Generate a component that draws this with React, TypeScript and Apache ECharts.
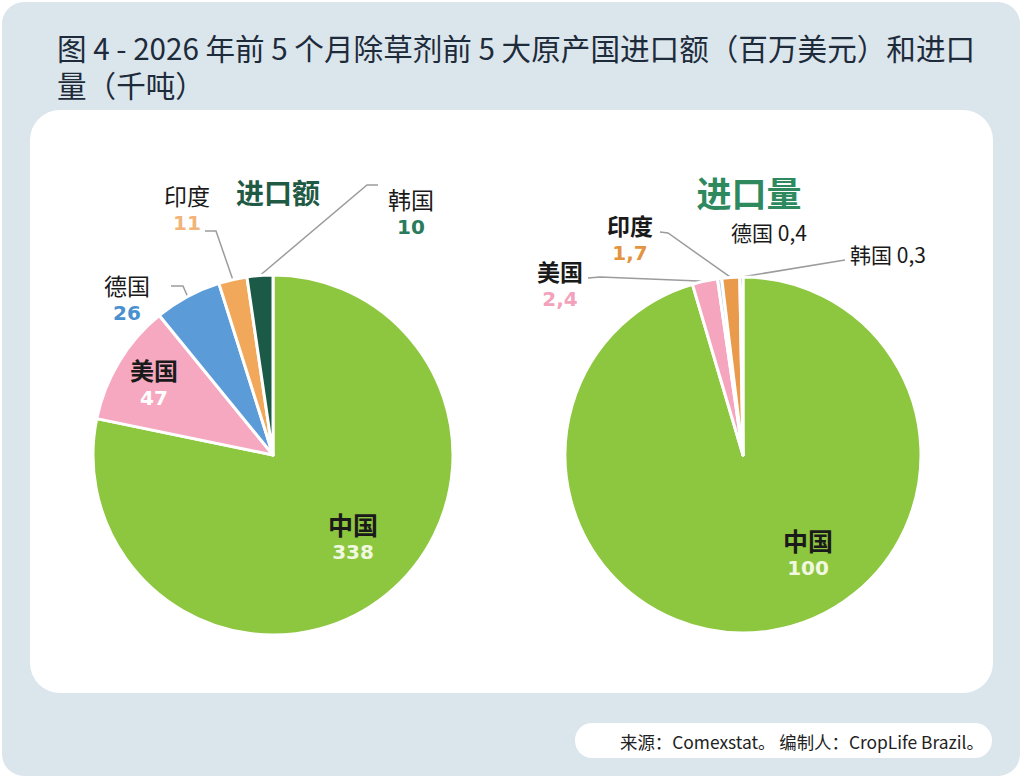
import React, { useEffect, useRef } from 'react';
import * as echarts from 'echarts';

// ---- data ----
const countries = ['中国', '美国', '德国', '印度', '韩国'];
const importValue = [338, 47, 26, 11, 10]; // 百万美元
const importVolume = [100, 2.4, 0.4, 1.7, 0.3]; // 千吨
const valueColors = ['#8dc63f', '#f5a8c0', '#5b9bd8', '#f1a85a', '#1b5a46'];
const volumeColors = ['#8dc63f', '#f5a6be', '#b8d4ee', '#e99a4a', '#163d33'];
const titleLine1 = '图 4 - 2026 年前 5 个月除草剂前 5 大原产国进口额（百万美元）和进口';
const titleLine2 = '量（千吨）';
const leftTitle = '进口额';
const rightTitle = '进口量';
const sourceText = '来源：Comexstat。 编制人：CropLife Brazil。';

// ---- styles / layout ----
const CJK = '"Noto Sans CJK SC", "Noto Sans", sans-serif';
const NUM = '"DejaVu Sans", "Noto Sans", sans-serif';

type LStyle = { bold: boolean; size: number; vColor: string; inside?: boolean; inline?: boolean; noLine?: boolean };
const leftLabelStyle: LStyle[] = [
  { bold: true, size: 25, vColor: '#f1f8e0', inside: true },
  { bold: true, size: 24, vColor: '#ffffff', inside: true },
  { bold: false, size: 23, vColor: '#4a8fd0' },
  { bold: false, size: 23, vColor: '#f2b47a' },
  { bold: false, size: 23, vColor: '#2a7a5c' },
];
const rightLabelStyle: LStyle[] = [
  { bold: true, size: 25, vColor: '#f1f8e0', inside: true },
  { bold: true, size: 23, vColor: '#f2a2bb' },
  { bold: false, size: 21, vColor: '#222', inline: true, noLine: true },
  { bold: true, size: 23, vColor: '#e39440' },
  { bold: false, size: 21, vColor: '#222', inline: true },
];
type LPos = { x: number; y: number; line?: number[][] };
const leftLabelPos: LPos[] = [
  { x: 353, y: 537 },
  { x: 154, y: 383 },
  { x: 127, y: 298, line: [[183, 286], [171, 286]] },
  { x: 187, y: 208, line: [[216, 231], [205, 231]] },
  { x: 411, y: 212, line: [[367, 185], [378, 185]] },
];
const rightLabelPos: LPos[] = [
  { x: 808, y: 553 },
  { x: 560, y: 284, line: [[600, 277], [588, 278]] },
  { x: 769, y: 232 },
  { x: 630, y: 238, line: [[668, 233], [660, 232]] },
  { x: 888, y: 254, line: [[845, 260]] },
];

const fmt = (v: number) => String(v).replace('.', ',');

function buildData(values: number[], colors: string[], styles: LStyle[]) {
  return countries.map((name, i) => {
    const s = styles[i];
    const v = fmt(values[i]);
    const nameStyle = {
      fontFamily: CJK,
      fontSize: s.size,
      fontWeight: s.bold ? 'bold' : 'normal',
      color: '#1a1a1a',
      lineHeight: 29,
    };
    return {
      name,
      value: values[i],
      itemStyle: { color: colors[i] },
      label: {
        position: s.inside ? 'inside' : 'outside',
        formatter: s.inline ? `{n|${name} ${v}}` : `{n|${name}}\n{v|${v}}`,
        rich: {
          n: nameStyle,
          v: { fontFamily: NUM, fontSize: 20, fontWeight: 'bold', color: s.vColor, lineHeight: 27 },
        },
      },
      labelLine: { show: !s.inside && !s.noLine },
    };
  });
}

function layoutFn(pos: LPos[]) {
  return (p: any) => {
    const q = pos[p.dataIndex];
    const res: any = { x: q.x, y: q.y, align: 'center', verticalAlign: 'middle' };
    if (q.line && p.labelLinePoints && p.labelLinePoints.length) {
      res.labelLinePoints = [p.labelLinePoints[0], ...q.line];
    }
    return res;
  };
}

const pieBase = {
  type: 'pie',
  startAngle: 90,
  clockwise: true,
  avoidLabelOverlap: false,
  itemStyle: { borderColor: '#ffffff', borderWidth: 3 },
  labelLine: { show: true, length: 10, length2: 10, lineStyle: { color: '#9c9c9c', width: 1.5 } },
  emphasis: { disabled: true },
  z: 2,
};

const titleStyle = { fontFamily: CJK, fontSize: 29.6, fill: '#1d2b3a', align: 'left', textAlign: 'left', verticalAlign: 'middle', textVerticalAlign: 'middle' };

const option: any = {
  animation: false,
  graphic: [
    { type: 'rect', z: -10, shape: { x: 2, y: 2, width: 1018, height: 774, r: 22 }, style: { fill: '#dbe5ec' } },
    { type: 'rect', z: -9, shape: { x: 30, y: 110, width: 963, height: 583, r: 30 }, style: { fill: '#ffffff' } },
    { type: 'rect', z: -9, shape: { x: 575, y: 723, width: 417, height: 35, r: 17 }, style: { fill: '#ffffff' } },
    { type: 'text', z: 5, x: 57, y: 47, style: { text: titleLine1, ...titleStyle } },
    { type: 'text', z: 5, x: 57, y: 84, style: { text: titleLine2, ...titleStyle } },
    {
      type: 'text', z: 5, x: 278, y: 192,
      style: { text: leftTitle, fontFamily: CJK, fontSize: 28, fontWeight: 'bold', fill: '#1f5a44', align: 'center', textAlign: 'center', verticalAlign: 'middle', textVerticalAlign: 'middle' },
    },
    {
      type: 'text', z: 5, x: 749, y: 191,
      style: { text: rightTitle, fontFamily: CJK, fontSize: 35, fontWeight: 'bold', fill: '#2e8a5e', align: 'center', textAlign: 'center', verticalAlign: 'middle', textVerticalAlign: 'middle' },
    },
    {
      type: 'text', z: 5, x: 620, y: 741,
      style: { text: sourceText, fontFamily: CJK, fontSize: 17.4, fill: '#222222', align: 'left', textAlign: 'left', verticalAlign: 'middle', textVerticalAlign: 'middle' },
    },
  ],
  series: [
    {
      ...pieBase,
      name: leftTitle,
      center: [273, 455],
      radius: 180,
      data: buildData(importValue, valueColors, leftLabelStyle),
      labelLayout: layoutFn(leftLabelPos),
    },
    {
      ...pieBase,
      name: rightTitle,
      center: [743, 455],
      radius: 178,
      data: buildData(importVolume, volumeColors, rightLabelStyle),
      labelLayout: layoutFn(rightLabelPos),
    },
  ],
};

export default function App() {
  const ref = useRef<HTMLDivElement>(null);
  useEffect(() => {
    const chart = echarts.init(ref.current as HTMLDivElement, null, { renderer: 'svg' });
    chart.setOption(option);
    return () => chart.dispose();
  }, []);
  return (
    <div
      ref={ref}
      style={{ position: 'fixed', left: 0, top: 0, width: 1024, height: 780, background: '#ffffff' }}
    />
  );
}
